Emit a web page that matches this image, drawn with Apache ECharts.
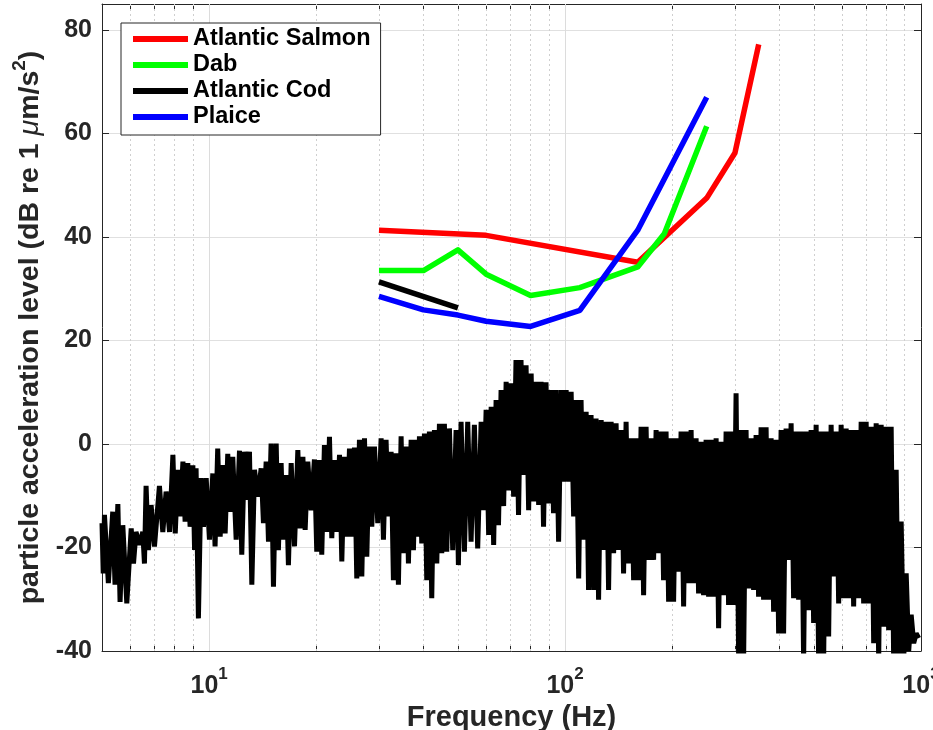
<!DOCTYPE html>
<html><head><meta charset="utf-8">
<script src="https://cdn.jsdelivr.net/npm/echarts@6.0.0/dist/echarts.min.js"></script>
<style>html,body{margin:0;padding:0;background:#fff}#c{width:933px;height:730px}</style>
</head><body><div id="c"></div>
<script>
const FONT = '"Liberation Sans", Arial, Helvetica, sans-serif';
const TXT = '#262626';

// Fish audiograms (Hz, dB)
const salmonFreq = [30, 60, 160, 250, 300, 350];
const salmonLevel = [41.3, 40.3, 35.1, 47.5, 56.2, 77.2];
const dabFreq = [30, 40, 50, 60, 80, 110, 160, 190, 250];
const dabLevel = [33.5, 33.5, 37.5, 32.8, 28.7, 30.2, 34.2, 40.6, 61.4];
const codFreq = [30, 50];
const codLevel = [31.3, 26.3];
const plaiceFreq = [30, 40, 50, 60, 80, 110, 160, 250];
const plaiceLevel = [28.5, 25.9, 24.9, 23.7, 22.7, 25.8, 41.3, 67.0];

// Measured noise spectrum (Hz, dB)
const specFreq = [
  5.00,5.04, 5.08,5.21, 5.36,5.44, 5.54,5.62, 5.72,5.87,
  6.04,6.13, 6.23,6.37, 6.51,6.58, 6.65,6.75, 6.87,7.02,
  7.25,7.41, 7.57,7.74, 7.91,8.03, 8.17,8.29, 8.44,8.56,
  8.71,8.84, 9.00,9.10, 9.19,9.33, 9.49,9.64, 9.81,10.02,
  10.24,10.39, 10.57,10.74, 10.92,11.09, 11.28,11.45, 11.65,11.91,
  12.17,12.35, 12.57,12.76, 12.98,13.18, 13.41,13.70, 14.00,14.21,
  14.46,14.68, 14.93,15.16, 15.43,15.65, 15.93,16.17, 16.45,16.70,
  17.00,17.37, 17.75,18.02, 18.34,18.61, 18.93,19.34, 19.76,20.06,
  20.41,20.72, 21.08,21.41, 21.78,22.11, 22.49,22.84, 23.24,23.59,
  24.00,24.37, 24.79,25.16, 25.60,25.99, 26.44,26.85, 27.32,27.73,
  28.21,28.64, 29.14,29.77, 30.42,30.88, 31.41,31.89, 32.45,32.94,
  33.51,34.02, 34.62,35.14, 35.76,36.30, 36.94,37.49, 38.14,38.56,
  38.98,39.57, 40.26,40.87, 41.58,42.21, 42.95,43.61, 44.36,45.03,
  45.81,46.51, 47.32,48.35, 49.41,50.15, 51.03,52.14, 53.27,54.44, 55.62,56.82,
  58.1,59.0, 60.0,61.0, 62.0,63.0, 64.0,65.0, 66.1,67.2,
  68.3,69.4, 70.5,71.7, 72.8,74.0, 75.2,76.4, 77.7,79.0,
  80.3,81.6, 82.9,84.3, 85.6,87.0, 88.4,89.9, 91.3,92.8,
  94.3,95.9, 97.5,99.0, 100.7,102.3, 104.0,105.7, 107.4,109.2,
  110.9,112.7, 114.6,116.4, 118.3,120.3, 122.2,124.2, 126.3,128.3,
  130.4,132.5, 134.7,136.9, 139.1,141.4, 143.7,146.0, 148.4,150.8,
  153.3,155.8, 158.3,160.9, 163.5,166.2, 168.9,171.7, 174.5,177.3,
  180.2,183.1, 186.1,189.1, 192.2,195.4, 198.6,201.8, 205.1,208.4,
  211.8,215.3, 218.8,222.4, 226.0,229.7, 233.4,237.2, 241.1,245.0,
  249.0,253.1, 257.2,261.4, 265.7,270.0, 274.4,278.9, 283.4,288.0,
  292.7,297.5, 302.3,307.3, 312.3,317.4, 322.5,327.8, 333.1,338.6,
  344.1,349.7, 355.4,361.2, 367.1,373.1, 379.2,385.4, 391.6,398.1,
  404.5,411.1, 417.8,424.6, 431.6,438.6, 445.8,453.1, 460.4,468.0,
  475.6,483.4, 491.2,499.3, 507.4,515.7, 524.1,532.7, 541.3,550.2,
  559.1,568.3, 577.5,587.0, 596.5,606.3, 616.2,626.2, 636.4,646.8,
  657.4,668.1, 679.0,690.1, 701.3,712.8, 724.4,736.3, 748.2,760.5,
  772.8,785.5, 798.3,811.3, 824.5,838.0, 851.6,865.6, 879.6,894.1,
  908.6,923.5, 938.5,953.9, 969.4,985.0
];
const specLevel = [
  -15.3,-25.0, -13.7,-26.9, -13.1,-27.2, -11.6,-30.5, -15.7,-30.8,
  -16.3,-23.1, -17.0,-19.5, -17.0,-23.1, -8.1,-20.5, -11.8,-19.8,
  -8.1,-17.0, -9.2,-17.0, -2.1,-17.3, -5.0,-14.0, -3.4,-15.0,
  -3.7,-16.0, -4.1,-20.5, -4.7,-33.7, -6.6,-16.0, -6.6,-18.5,
  -5.7,-19.8, -0.9,-17.9, -4.1,-17.3, -1.9,-13.1, -2.5,-18.5,
  -1.3,-21.4, -1.5,-10.8, -1.5,-27.2, -5.0,-10.2, -4.7,-15.3,
  -3.4,-18.9, 0.1,-27.6, 0.1,-20.5, -3.7,-18.5, -6.0,-23.4,
  -3.7,-19.8, -1.2,-16.3, -2.5,-16.6, -3.4,-12.8, -3.0,-20.8,
  -3.1,-21.4, -0.2,-17.0, 1.4,-18.2, -3.1,-17.0, -2.1,-22.7,
  -2.5,-17.9, -0.9,-17.9, -0.7,-26.0, 0.8,-25.6, 1.1,-21.8,
  -0.5,-16.0, -0.5,-15.3, 1.1,-18.5, 0.8,-14.0, -1.5,-26.3,
  -1.8,-27.2, 1.5,-21.1, -0.5,-23.1, 0.8,-20.5, 0.8,-17.9,
  1.5,-19.2, 2.0,-26.3, 2.4,-29.8, 2.7,-23.1, 3.9,-21.1,
  3.9,-20.8, 3.0,-20.5, 2.7,-23.4, 4.3,-20.8, 4.3,-18.9, 3.7,-20.2,
  4.3,-12.8, 6.6,-17.6, 7.2,-19.5, 8.5,-15.7, 10.4,-12.0,
  12.0,-9.0, 11.7,-10.2, 16.2,-13.7, 16.2,-6.0, 15.2,-12.8,
  13.6,-11.1, 12.0,-11.8, 12.0,-16.0, 11.9,-11.5, 10.4,-13.4,
  10.4,-18.9, 10.4,-7.3, 10.4,-7.3, 10.1,-14.0, 8.5,-26.0,
  8.5,-18.5, 6.2,-28.2, 5.6,-28.2, 4.9,-30.1, 4.6,-20.5,
  4.3,-28.2, 4.3,-21.1, 4.0,-20.5, 2.7,-25.0, 4.3,-23.1,
  1.1,-26.3, 1.1,-26.3, 3.3,-29.2, 3.3,-22.4, 1.1,-22.4,
  2.7,-21.1, 2.4,-26.3, 2.4,-30.5, 1.1,-30.5, 1.1,-24.7,
  2.4,-31.4, 2.4,-26.9, 2.7,-26.9, 1.1,-28.9, 0.4,-29.2,
  0.8,-29.5, 0.8,-29.5, 1.1,-35.6, 0.4,-29.2, 2.4,-31.1,
  2.4,-31.1, 9.8,-41.0, 2.7,-42.0, 2.7,-27.9, 1.1,-28.2,
  1.7,-29.5, 3.2,-30.1, 3.2,-30.1, 1.1,-32.4, 0.8,-36.6,
  2.7,-36.6, 3.0,-22.4, 4.0,-29.8, 2.4,-30.1, 2.4,-42.0,
  2.4,-32.1, 2.7,-34.6, 3.7,-42.0, 2.4,-42.0, 2.4,-37.2,
  3.7,-25.6, 2.4,-30.8, 3.7,-29.8, 3.0,-29.8, 2.7,-31.4,
  2.7,-29.8, 4.3,-30.8, 4.3,-30.8, 3.3,-38.5, 4.0,-42.0,
  3.7,-35.3, 3.3,-36.0, 3.3,-42.0, -5.0,-42.0, -15.0,-42.0,
  -25.0,-40.0, -33.0,-38.5, -36.6,-37.5
];

// Axis ticks
const yTicks = [-40, -20, 0, 20, 40, 60, 80];
const xMajor = [10, 100, 1000];
const xMinor = [6, 7, 8, 9, 20, 30, 40, 50, 60, 70, 80, 90, 200, 300, 400, 500, 600, 700, 800, 900];

const pairs = (fs, ls) => fs.map((f, i) => [f, ls[i]]);
const allXTicks = xMinor.concat([10, 100]).sort((a, b) => a - b);

const chart = echarts.init(document.getElementById('c'), null, {renderer: 'canvas'});

const fishSeries = (name, fs, ls, color) => ({
  type: 'line', name: name, data: pairs(fs, ls),
  symbol: 'none', showSymbol: false, z: 3, silent: true,
  lineStyle: {color: color, width: 5.5, join: 'round'},
  itemStyle: {color: color}
});

const option = {
  animation: false,
  backgroundColor: '#fff',
  textStyle: {fontFamily: FONT},
  grid: {left: 102, right: 12, top: 4, bottom: 79, containLabel: false, outerBoundsMode: 'none'},
  legend: {
    data: ['Atlantic Salmon', 'Dab', 'Atlantic Cod', 'Plaice'],
    orient: 'vertical', left: 121, top: 23,
    padding: [4, 10, 6, 12], itemGap: 2,
    itemWidth: 55, itemHeight: 6, icon: 'rect',
    borderColor: TXT, borderWidth: 1, borderRadius: 0, backgroundColor: '#fff',
    selectedMode: false,
    textStyle: {fontFamily: FONT, fontSize: 23.5, fontWeight: 'bold', color: '#000'}
  },
  xAxis: [
    {
      type: 'log', logBase: 10, min: 5, max: 1000, position: 'bottom',
      axisLine: {show: true, onZero: false, lineStyle: {color: TXT, width: 1}},
      axisTick: {show: true, inside: true, length: 5, customValues: allXTicks, lineStyle: {color: TXT}},
      axisLabel: {
        show: true, customValues: xMajor, margin: 15,
        formatter: v => '{b|10}{s|' + Math.round(Math.log(v) / Math.LN10) + '}',
        rich: {
          b: {fontSize: 25, fontWeight: 'bold', fontFamily: FONT, color: TXT, verticalAlign: 'bottom', lineHeight: 33},
          s: {fontSize: 17, fontWeight: 'bold', fontFamily: FONT, color: TXT, verticalAlign: 'top', lineHeight: 33}
        }
      },
      splitLine: {show: false},
      name: 'Frequency (Hz)', nameLocation: 'middle', nameGap: 40,
      nameTextStyle: {fontFamily: FONT, fontSize: 29, fontWeight: 'bold', color: TXT}
    },
    {
      type: 'log', logBase: 10, min: 5, max: 1000, position: 'top',
      axisLine: {show: true, onZero: false, lineStyle: {color: TXT, width: 1}},
      axisTick: {show: true, inside: true, length: 5, customValues: allXTicks, lineStyle: {color: TXT}},
      axisLabel: {show: false},
      splitLine: {show: false}
    }
  ],
  yAxis: [
    {
      type: 'value', min: -40, max: 85, interval: 20, position: 'left',
      axisLine: {show: true, onZero: false, lineStyle: {color: TXT, width: 1}},
      axisTick: {show: true, inside: true, length: 7, customValues: yTicks, lineStyle: {color: TXT}},
      axisLabel: {show: true, customValues: yTicks, margin: 10, fontSize: 25, fontWeight: 'bold', fontFamily: FONT, color: TXT},
      splitLine: {show: true, lineStyle: {color: '#e0e0e0', width: 1}},
      name: '{n|particle acceleration level (dB re 1 }{i|\u03bc}{n|m/s}{s|2}{n|)}',
      nameLocation: 'middle', nameGap: 34, nameRotate: 90,
      nameTextStyle: {
        rich: {
          n: {fontSize: 28.5, fontWeight: 'bold', fontFamily: FONT, color: TXT, verticalAlign: 'bottom', lineHeight: 35},
          i: {fontSize: 28.5, fontStyle: 'italic', fontWeight: 'normal', fontFamily: FONT, color: TXT, verticalAlign: 'bottom', lineHeight: 35},
          s: {fontSize: 19, fontWeight: 'bold', fontFamily: FONT, color: TXT, verticalAlign: 'top', lineHeight: 35}
        }
      }
    },
    {
      type: 'value', min: -40, max: 85, interval: 20, position: 'right',
      axisLine: {show: true, onZero: false, lineStyle: {color: TXT, width: 1}},
      axisTick: {show: true, inside: true, length: 7, customValues: yTicks, lineStyle: {color: TXT}},
      axisLabel: {show: false},
      splitLine: {show: false}
    }
  ],
  series: [
    {
      type: 'line', name: 'grid', data: [], silent: true, z: 1,
      markLine: {
        silent: true, symbol: 'none', animation: false, z: 1,
        label: {show: false},
        data: xMinor.map(v => ({xAxis: v, lineStyle: {color: '#cfcfcf', width: 1, type: [2, 3]}}))
          .concat(xMajor.filter(v => v < 1000).map(v => ({xAxis: v, lineStyle: {color: '#dcdcdc', width: 1, type: 'solid'}})))
      }
    },
    {
      type: 'line', name: 'spectrum', data: pairs(specFreq, specLevel),
      symbol: 'none', showSymbol: false, z: 2, silent: true, clip: true,
      lineStyle: {color: '#000', width: 5, join: 'bevel'},
      itemStyle: {color: '#000'}
    },
    fishSeries('Atlantic Salmon', salmonFreq, salmonLevel, '#ff0000'),
    fishSeries('Dab', dabFreq, dabLevel, '#00ff00'),
    fishSeries('Atlantic Cod', codFreq, codLevel, '#000000'),
    fishSeries('Plaice', plaiceFreq, plaiceLevel, '#0000ff')
  ]
};
chart.setOption(option);
</script>
</body></html>
